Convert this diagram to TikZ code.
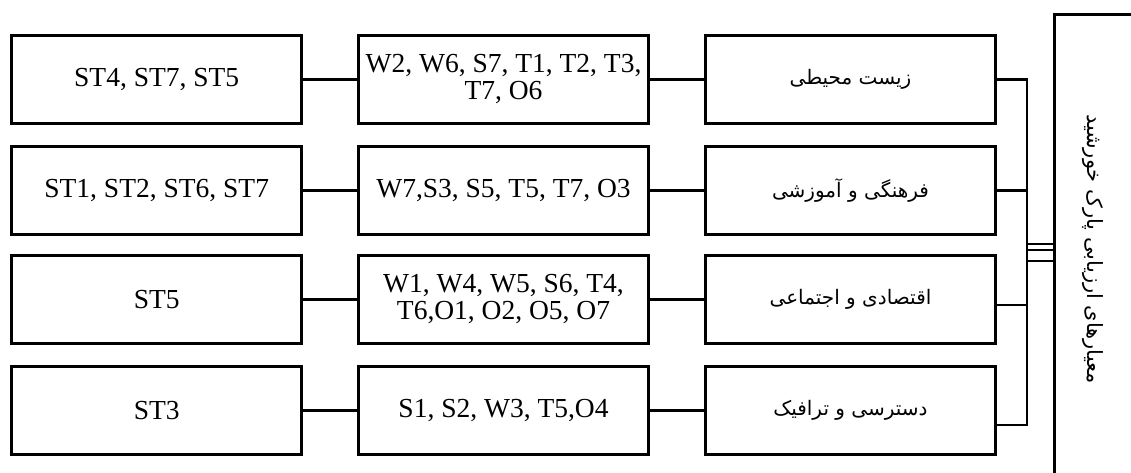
\documentclass[tikz,border=0pt]{standalone}
\usepackage{fontspec}
\setmainfont{Liberation Serif}
\newfontfamily\fa[Script=Arabic]{DejaVu Sans}
\TeXXeTstate=1
\begin{document}
\begin{tikzpicture}[x=1pt,y=-1pt,
  box/.style={draw, line width=2.8pt, align=center, inner sep=0pt, minimum width=290pt, minimum height=88pt},
  lbox/.style={box, font=\fontsize{27.5}{27}\selectfont},
  mbox/.style={box, font=\fontsize{27.5}{27}\selectfont},
  rbox/.style={box, font=\fa\fontsize{20}{24}\selectfont},
  conn/.style={line width=2.8pt}]
\useasboundingbox (0,0) rectangle (1131,472);
\clip (0,0) rectangle (1131,472);
% left column
\node[lbox] (l1) at (156.7,79.5) {ST4, ST7, ST5};
\node[lbox] (l2) at (156.7,190.5) {ST1, ST2, ST6, ST7};
\node[lbox] (l3) at (156.7,299.5) {ST5};
\node[lbox] (l4) at (156.7,410.5) {ST3};
% middle column
\node[mbox] (m1) at (503.5,79.5) {W2, W6, S7, T1, T2, T3,\\ T7, O6};
\node[mbox] (m2) at (503.5,190.5) {W7,S3, S5, T5, T7, O3};
\node[mbox] (m3) at (503.5,299.5) {W1, W4, W5, S6, T4,\\ T6,O1, O2, O5, O7};
\node[mbox] (m4) at (503.5,410.5) {S1, S2, W3, T5,O4};
% right column
\node[rbox] (r1) at (850.5,79.5) {\beginR زیست محیطی\endR};
\node[rbox] (r2) at (850.5,190.5) {\beginR فرهنگی و آموزشی\endR};
\node[rbox] (r3) at (850.5,299.5) {\beginR اقتصادی و اجتماعی\endR};
\node[rbox] (r4) at (850.5,410.5) {\beginR دسترسی و ترافیک\endR};
% main box (runs off the page)
\node[draw, line width=2.8pt, minimum width=160pt, minimum height=480pt, anchor=north west, inner sep=0pt] (main) at (1053,13) {};
\node[rotate=-90, font=\fa\fontsize{21}{24}\selectfont] (title) at (1093,249) {\beginR معیارهای ارزیابی پارک خورشید\endR};
% connectors
\foreach \i in {1,2,3,4}{
  \draw[conn] (l\i) -- (m\i);
  \draw[conn] (m\i) -- (r\i);
}
\coordinate (b1) at (1027,79.5);
\coordinate (b2) at (1027,190.5);
\coordinate (b3) at (1027,305);
\coordinate (b4) at (1027,425);
\draw[conn] (r1.east) -- (b1);
\draw[conn] (r2.east) -- (b2);
\draw[conn] (r3.east |- b3) -- (b3);
\draw[conn] (r4.east |- b4) -- (b4);
\draw[conn] ([yshift=1.4pt]b1) -- ([yshift=-1.4pt]b4);
\coordinate (t1) at (1027,244);
\coordinate (t2) at (1027,250);
\coordinate (t3) at (1027,261);
\draw[conn] (t1) -- (t1 -| main.west);
\draw[conn] (t2) -- (t2 -| main.west);
\draw[conn] (t3) -- (t3 -| main.west);
\end{tikzpicture}
\end{document}
